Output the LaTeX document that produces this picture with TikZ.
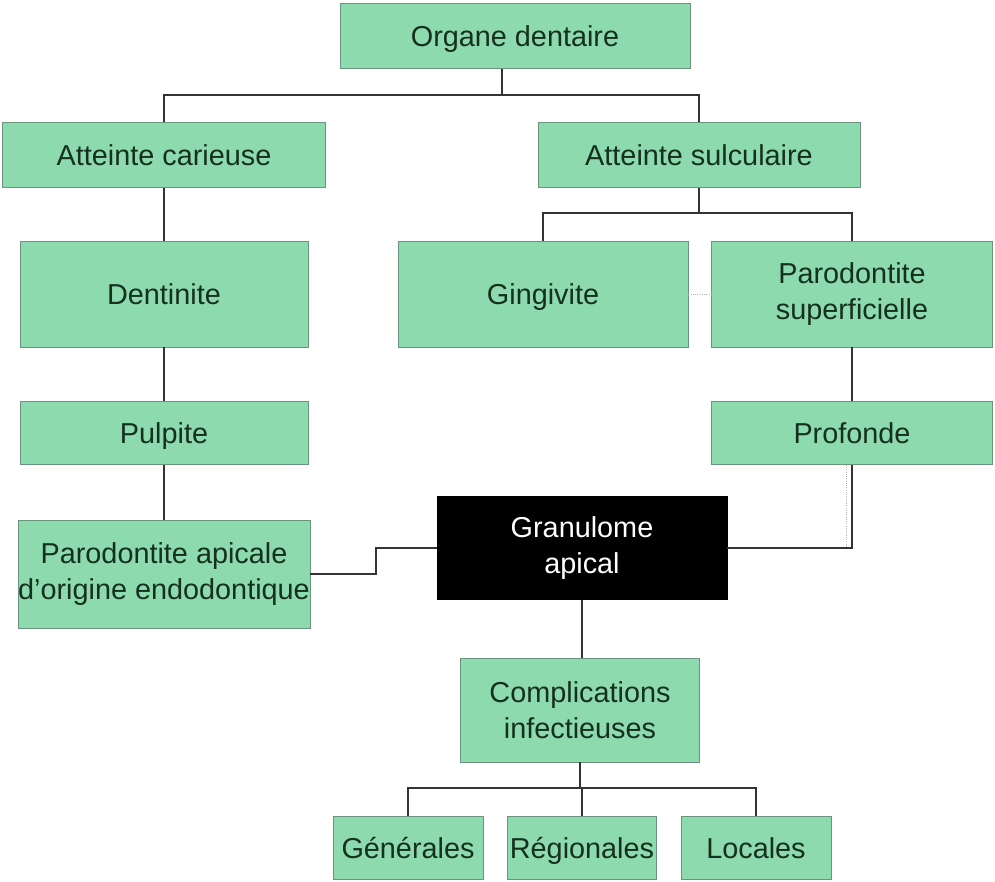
\documentclass[tikz,border=0pt]{standalone}
\usepackage{fontspec}
\setmainfont{Liberation Sans}
\definecolor{boxfill}{HTML}{8DDAAE}
\definecolor{boxline}{HTML}{6A947C}
\definecolor{boxtext}{HTML}{15301F}
\definecolor{linkline}{HTML}{333333}

\begin{document}
\begin{tikzpicture}[x=0.025cm,y=-0.025cm,
	every node/.style={draw=boxline,fill=boxfill,text=boxtext,rectangle,align=center,inner sep=0pt,
		font=\fontsize{20.5}{26}\selectfont},
	oneline/.style={text height=18pt,text depth=3.3pt},
	dark/.style={fill=black,draw=black,text=white},
	link/.style={draw=linkline,line width=1.1pt},
	faint/.style={draw=gray!60,densely dotted,line width=0.6pt}]
		\useasboundingbox (0,0) rectangle (995,882);

		\node[oneline,minimum width=350*0.025cm,minimum height=65*0.025cm] (organe) at (515,36){Organe dentaire};
		\node[oneline,minimum width=323*0.025cm,minimum height=65*0.025cm] (carieuse) at (164,155){Atteinte carieuse};
		\node[oneline,minimum width=322*0.025cm,minimum height=65*0.025cm] (sulculaire) at (699,155){Atteinte sulculaire};
		\node[oneline,minimum width=288*0.025cm,minimum height=106*0.025cm] (dentinite) at (164,294){Dentinite};
		\node[oneline,minimum width=290*0.025cm,minimum height=106*0.025cm] (gingivite) at (543,294){Gingivite};
		\node[minimum width=281*0.025cm,minimum height=106*0.025cm] (superf) at (852,294){Parodontite\\superficielle};
		\node[oneline,minimum width=288*0.025cm,minimum height=63*0.025cm] (pulpite) at (164,433){Pulpite};
		\node[oneline,minimum width=281*0.025cm,minimum height=63*0.025cm] (profonde) at (852,433){Profonde};
		\node[minimum width=288*0.025cm,minimum height=108*0.025cm] (apicale) at (164,574){Parodontite apicale\\d'origine endodontique};
		\node[dark,minimum width=290*0.025cm,minimum height=103*0.025cm] (granulome) at (582,548){Granulome\\apical};
		\node[minimum width=239*0.025cm,minimum height=104*0.025cm] (compl) at (580,710){Complications\\infectieuses};
		\node[oneline,minimum width=150*0.025cm,minimum height=63*0.025cm] (gen) at (408,848){Générales};
		\node[oneline,minimum width=149*0.025cm,minimum height=63*0.025cm] (reg) at (582,848){Régionales};
		\node[oneline,minimum width=150*0.025cm,minimum height=63*0.025cm] (loc) at (756,848){Locales};

		\coordinate (t1) at (502,95);
		\coordinate (t2) at (699,213);
		\coordinate (t3) at (582,788);
		\coordinate (k) at (376,0);

		\draw[link] (organe.south -| t1) -- (t1);
		\draw[link] (carieuse.north) |- (t1) -| (sulculaire.north);
		\draw[link] (carieuse.south) -- (dentinite.north);
		\draw[link] (dentinite.south) -- (pulpite.north);
		\draw[link] (pulpite.south) -- (apicale.north);

		\draw[link] (sulculaire.south) -- (t2);
		\draw[link] (gingivite.north) |- (t2) -| (superf.north);
		\draw[faint] (gingivite.east) -- (superf.west);
		\draw[link] (superf.south) -- (profonde.north);
		\draw[link] (profonde.south) |- (granulome.east);
		\draw[faint] ([xshift=-0.15cm]profonde.south) -- ([xshift=-0.15cm]profonde.south |- granulome.east);

		\draw[link] (apicale.east) -- (apicale.east -| k) |- (granulome.west);
		\draw[link] (granulome.south) -- (granulome.south |- compl.north);

		\draw[link] (compl.south) -- (compl.south |- t3);
		\draw[link] (gen.north) |- (t3) -| (loc.north);
		\draw[link] (reg.north) -- (reg.north |- t3);

	\end{tikzpicture}
\end{document}
